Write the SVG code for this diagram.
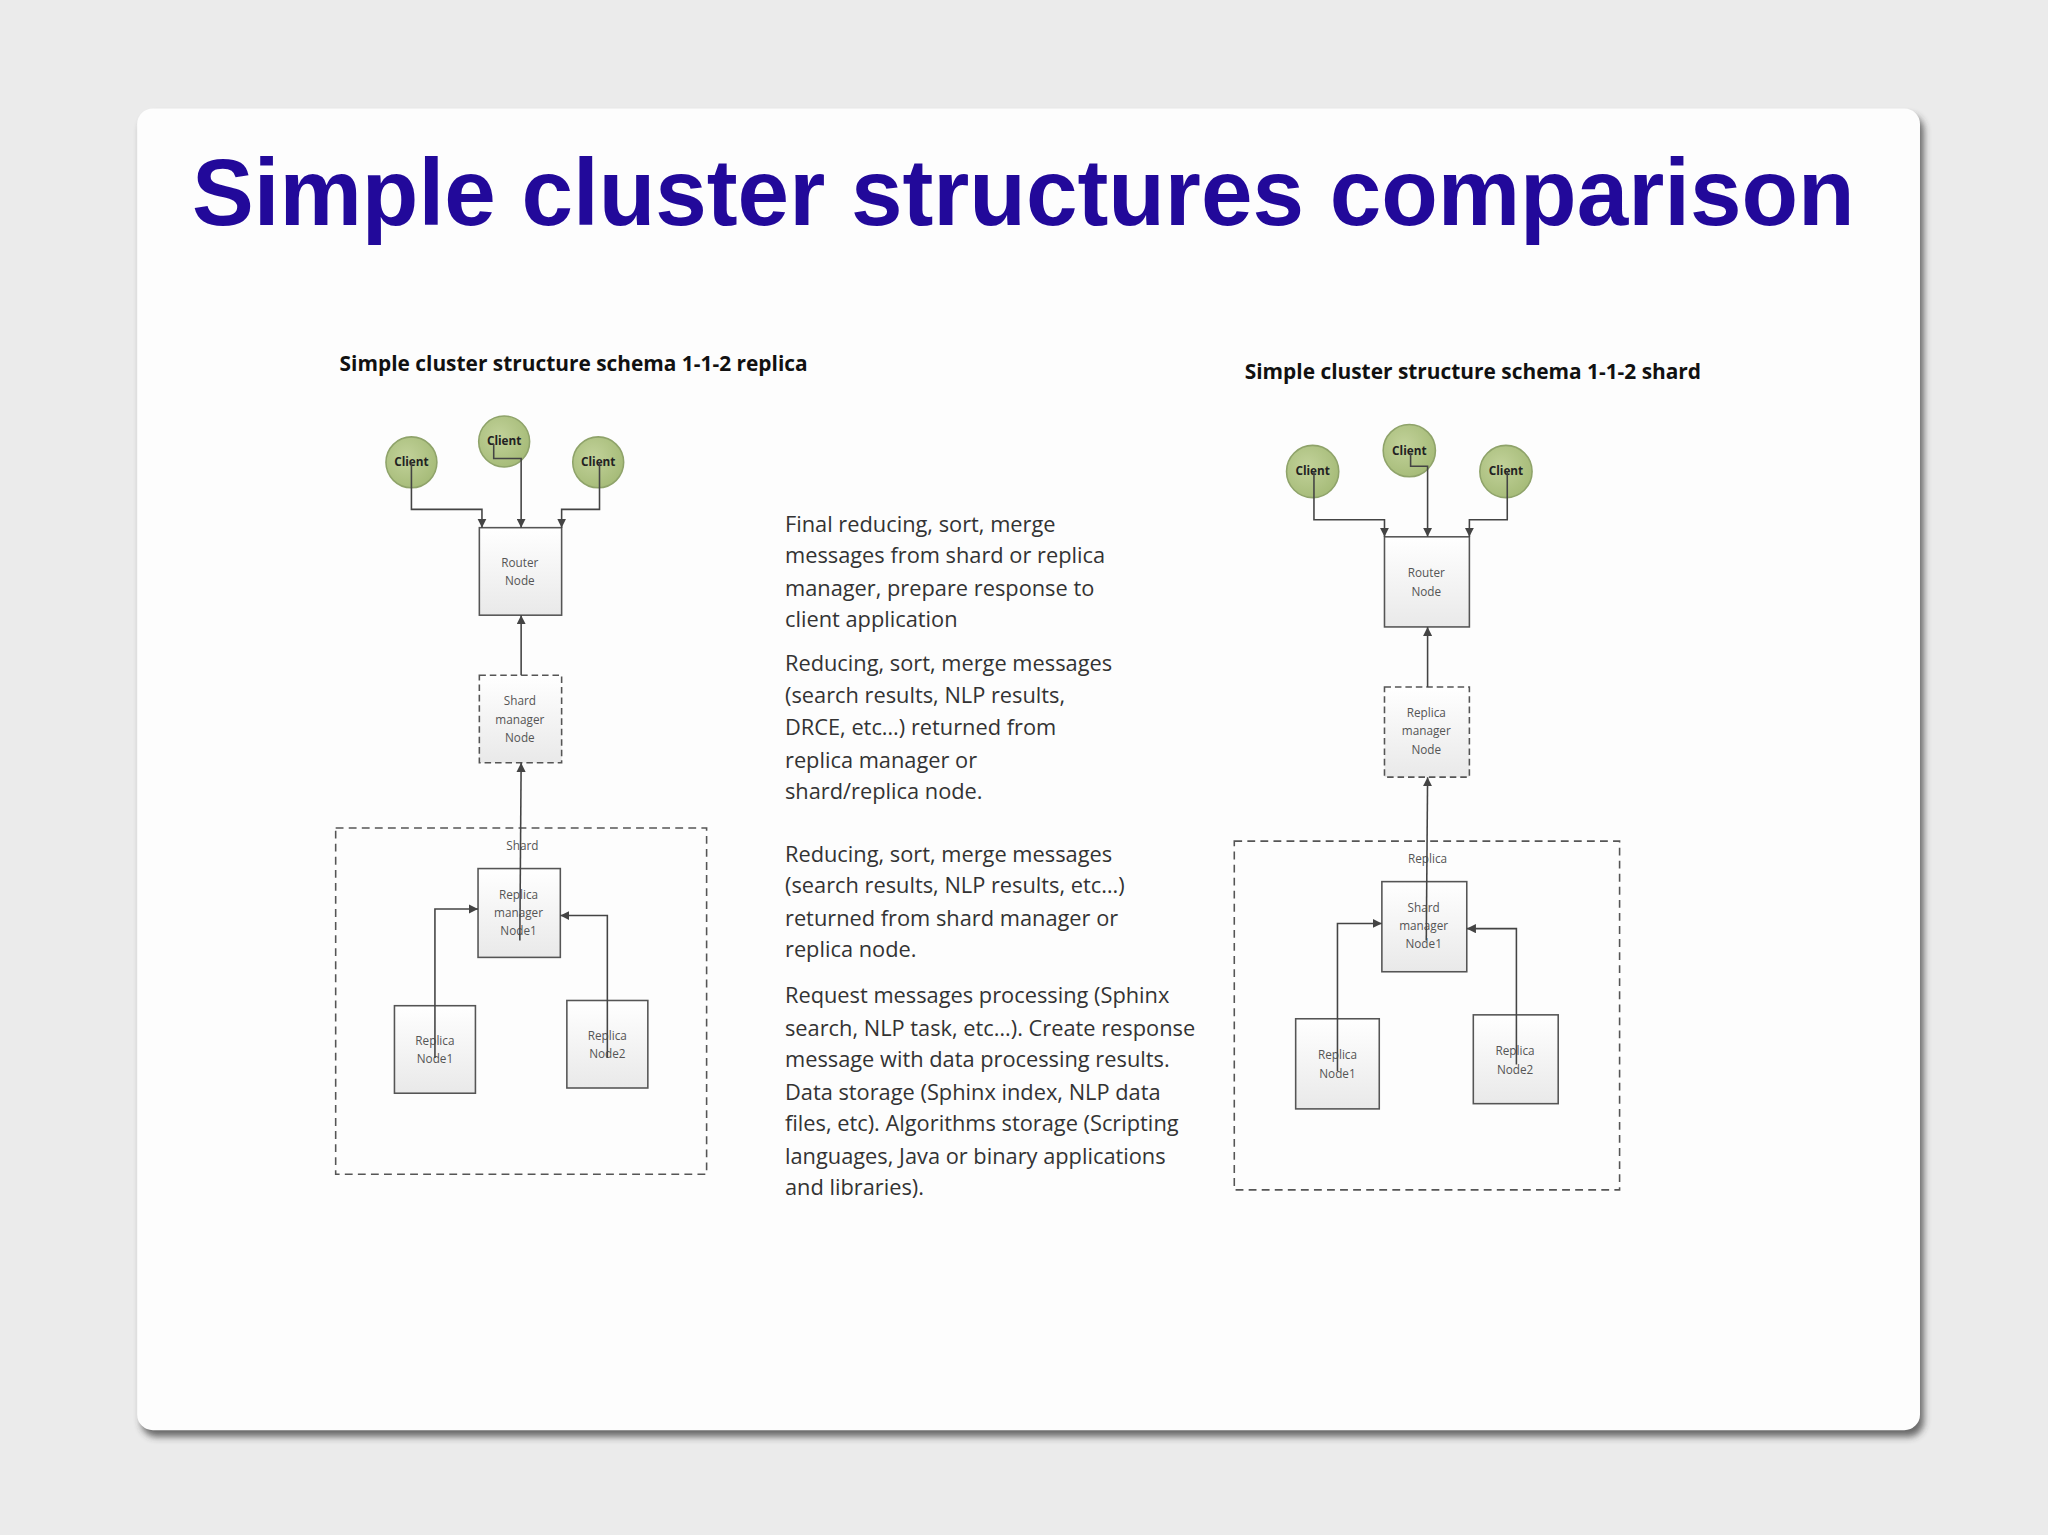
<svg xmlns="http://www.w3.org/2000/svg" width="2048" height="1535" viewBox="0 0 2048 1535">
<defs>
<linearGradient id="bx" x1="0" y1="0" x2="0" y2="1"><stop offset="0" stop-color="#ffffff"/><stop offset="1" stop-color="#e9e9e9"/></linearGradient>
<radialGradient id="cl" cx="0.4" cy="0.4" r="0.7"><stop offset="0" stop-color="#c2d29a"/><stop offset="1" stop-color="#a3b975"/></radialGradient>
<marker id="ah" viewBox="0 0 10 10" refX="10" refY="5" markerWidth="7" markerHeight="7" markerUnits="userSpaceOnUse" orient="auto"><path d="M0,0 L10,5 L0,10 z" fill="#444"/></marker>
<filter id="sh" x="-5%" y="-5%" width="110%" height="110%"><feGaussianBlur stdDeviation="3"/></filter>
</defs>
<style>
.box{fill:url(#bx);stroke:#555;stroke-width:1.2}
.dbox{fill:url(#bx);stroke:#555;stroke-width:1.2;stroke-dasharray:5 3}
.grp{fill:none;stroke:#555;stroke-width:1.2;stroke-dasharray:6 4}
.cli{fill:url(#cl);stroke:#8fa36a;stroke-width:1.2}
.bt{font-family:"Open Sans","Liberation Sans",sans-serif;font-size:9px;fill:#555;text-anchor:middle}
.ct{font-family:"Open Sans","Liberation Sans",sans-serif;font-size:9px;font-weight:bold;fill:#222;text-anchor:middle}
.con{fill:none;stroke:#444;stroke-width:1.2;marker-end:url(#ah)}
.sub{font-family:"Open Sans","Liberation Sans",sans-serif;font-size:16px;font-weight:bold;fill:#111}
.mt{font-family:"Open Sans","Liberation Sans",sans-serif;font-size:16.7px;fill:#333}
</style>
<rect width="2048" height="1535" fill="#ebebeb"/>
<g transform="scale(1.30612)">
<rect x="108" y="88" width="1365" height="1012" rx="12" fill="#333" opacity="0.7" filter="url(#sh)"/>
<rect x="105" y="83" width="1365" height="1012" rx="12" fill="#fdfdfd"/>
<text x="147" y="172" font-family="Liberation Sans,Arial,sans-serif" font-weight="bold" font-size="72" fill="#22099a" textLength="1273" lengthAdjust="spacingAndGlyphs">Simple cluster structures comparison</text>
<text class="sub" x="260" y="284">Simple cluster structure schema 1-1-2 replica</text>
<text class="sub" x="953" y="290">Simple cluster structure schema 1-1-2 shard</text>

<g class="mt">
<text x="601" y="407">Final reducing, sort, merge</text>
<text x="601" y="431">messages from shard or replica</text>
<text x="601" y="456">manager, prepare response to</text>
<text x="601" y="480">client application</text>
<text x="601" y="514">Reducing, sort, merge messages</text>
<text x="601" y="538">(search results, NLP results,</text>
<text x="601" y="563">DRCE, etc…) returned from</text>
<text x="601" y="588">replica manager or</text>
<text x="601" y="612">shard/replica node.</text>
<text x="601" y="660">Reducing, sort, merge messages</text>
<text x="601" y="684">(search results, NLP results, etc…)</text>
<text x="601" y="709">returned from shard manager or</text>
<text x="601" y="733">replica node.</text>
<text x="601" y="768">Request messages processing (Sphinx</text>
<text x="601" y="793">search, NLP task, etc…). Create response</text>
<text x="601" y="817">message with data processing results.</text>
<text x="601" y="842">Data storage (Sphinx index, NLP data</text>
<text x="601" y="866">files, etc). Algorithms storage (Scripting</text>
<text x="601" y="891">languages, Java or binary applications</text>
<text x="601" y="915">and libraries).</text>
</g>

<!-- Left diagram -->
<g id="l-shard"><rect class="grp" x="257" y="634" width="284" height="265"/><text class="bt" x="400" y="651">Shard</text></g>
<g id="l-c1"><circle class="cli" cx="315" cy="354" r="19.5"/><text class="ct" x="315" y="357">Client</text></g>
<g id="l-c2"><circle class="cli" cx="386" cy="338" r="19.5"/><text class="ct" x="386" y="341">Client</text></g>
<g id="l-c3"><circle class="cli" cx="458" cy="354" r="19.5"/><text class="ct" x="458" y="357">Client</text></g>
<g id="l-router"><rect class="box" x="367" y="404" width="63" height="67"/><text class="bt" x="398" y="434">Router</text><text class="bt" x="398" y="448">Node</text></g>
<g id="l-smgr"><rect class="dbox" x="367" y="517" width="63" height="67"/><text class="bt" x="398" y="540">Shard</text><text class="bt" x="398" y="554">manager</text><text class="bt" x="398" y="568">Node</text></g>
<g id="l-rmgr"><rect class="box" x="366" y="665" width="63" height="68"/><text class="bt" x="397" y="688">Replica</text><text class="bt" x="397" y="702">manager</text><text class="bt" x="397" y="716">Node1</text></g>
<g id="l-r1"><rect class="box" x="302" y="770" width="62" height="67"/><text class="bt" x="333" y="800">Replica</text><text class="bt" x="333" y="814">Node1</text></g>
<g id="l-r2"><rect class="box" x="434" y="766" width="62" height="67"/><text class="bt" x="465" y="796">Replica</text><text class="bt" x="465" y="810">Node2</text></g>

<!-- Right diagram -->
<g id="r-rep"><rect class="grp" x="945" y="644" width="295" height="267"/><text class="bt" x="1093" y="661">Replica</text></g>
<g id="r-c1"><circle class="cli" cx="1005" cy="361" r="20"/><text class="ct" x="1005" y="364">Client</text></g>
<g id="r-c2"><circle class="cli" cx="1079" cy="345" r="20"/><text class="ct" x="1079" y="348">Client</text></g>
<g id="r-c3"><circle class="cli" cx="1153" cy="361" r="20"/><text class="ct" x="1153" y="364">Client</text></g>
<g id="r-router"><rect class="box" x="1060" y="411" width="65" height="69"/><text class="bt" x="1092" y="442">Router</text><text class="bt" x="1092" y="456">Node</text></g>
<g id="r-rmgr"><rect class="dbox" x="1060" y="526" width="65" height="69"/><text class="bt" x="1092" y="549">Replica</text><text class="bt" x="1092" y="563">manager</text><text class="bt" x="1092" y="577">Node</text></g>
<g id="r-smgr"><rect class="box" x="1058" y="675" width="65" height="69"/><text class="bt" x="1090" y="698">Shard</text><text class="bt" x="1090" y="712">manager</text><text class="bt" x="1090" y="726">Node1</text></g>
<g id="r-r1"><rect class="box" x="992" y="780" width="64" height="69"/><text class="bt" x="1024" y="811">Replica</text><text class="bt" x="1024" y="825">Node1</text></g>
<g id="r-r2"><rect class="box" x="1128" y="777" width="65" height="68"/><text class="bt" x="1160" y="808">Replica</text><text class="bt" x="1160" y="822">Node2</text></g>

<g id="connectors">
<path class="con" d="M315,354 V390 H369 V404"/>
<path class="con" d="M378,340 V351 H399 V404"/>
<path class="con" d="M459,354 V390 H430 V404"/>
<path class="con" d="M399,517 V471"/>
<path class="con" d="M398,720 L399,584"/>
<path class="con" d="M333,810 V696 H366"/>
<path class="con" d="M465,810 V701 H429"/>
<path class="con" d="M1006,361 V398 H1060 V411"/>
<path class="con" d="M1080,347 V357 H1093 V411"/>
<path class="con" d="M1154,361 V398 H1125 V411"/>
<path class="con" d="M1093,526 V480"/>
<path class="con" d="M1092,720 L1093,595"/>
<path class="con" d="M1024,820 V707 H1058"/>
<path class="con" d="M1161,815 V711 H1123"/>
</g>
</g>
</svg>
